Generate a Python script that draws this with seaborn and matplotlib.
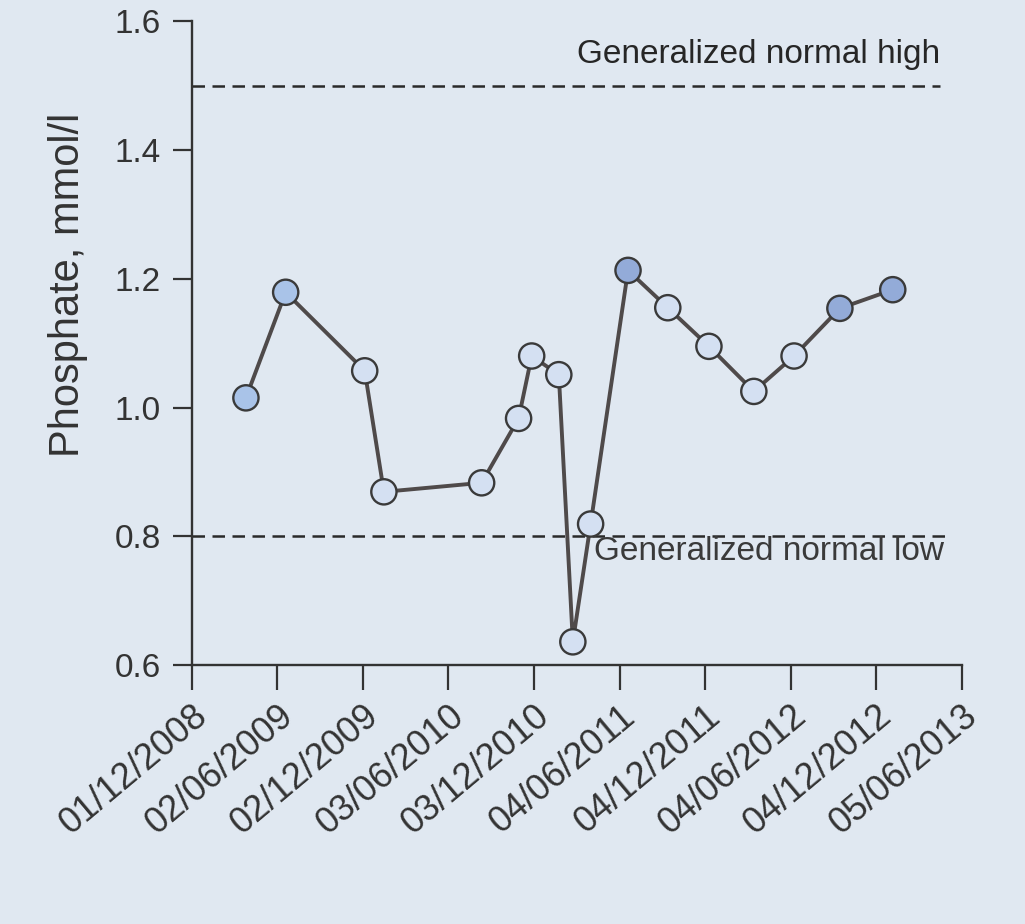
import matplotlib
matplotlib.use("Agg")
import matplotlib.pyplot as plt
import seaborn as sns
import pandas as pd

dates = ["2009-03-27", "2009-06-20", "2009-12-06", "2010-01-16", "2010-08-13",
         "2010-10-31", "2010-11-28", "2011-01-25", "2011-02-24", "2011-04-03",
         "2011-06-22", "2011-09-15", "2011-12-12", "2012-03-17", "2012-06-11",
         "2012-09-17", "2013-01-08"]
phosphate = [1.015, 1.179, 1.057, 0.869, 0.883, 0.983, 1.080, 1.051, 0.636, 0.819,
             1.213, 1.155, 1.095, 1.025, 1.080, 1.154, 1.183]
shade = ["mid", "mid", "light", "light", "light", "light", "light", "light", "light",
         "light", "dark", "light", "light", "light", "light", "dark", "dark"]
tick_dates = ["2008-12-01", "2009-06-02", "2009-12-02", "2010-06-03", "2010-12-03",
              "2011-06-04", "2011-12-04", "2012-06-04", "2012-12-04", "2013-06-05"]
tick_labels = ["01/12/2008", "02/06/2009", "02/12/2009", "03/06/2010", "03/12/2010",
               "04/06/2011", "04/12/2011", "04/06/2012", "04/12/2012", "05/06/2013"]
y_ticks = [0.6, 0.8, 1.0, 1.2, 1.4, 1.6]
y_tick_labels = ["0.6", "0.8", "1.0", "1.2", "1.4", "1.6"]
normal_high = 1.5
normal_low = 0.8

df = pd.DataFrame({"date": pd.to_datetime(dates), "phosphate": phosphate, "shade": shade})

sns.set_theme(style="ticks")
plt.rcParams["font.family"] = ["Liberation Sans", "DejaVu Sans"]

bg = "#e0e8f1"
fig = plt.figure(figsize=(10.25, 9.24), dpi=100, facecolor=bg)
ax = fig.add_axes([0.187, 0.2803, 0.7515, 0.6967])
ax.set_facecolor(bg)

sns.lineplot(data=df, x="date", y="phosphate", ax=ax, color="#4f4a4a", linewidth=2.8,
             zorder=2)
sns.scatterplot(data=df, x="date", y="phosphate", hue="shade", ax=ax,
                palette={"light": "#d4e0f2", "mid": "#a9c3e8", "dark": "#93abd8"},
                s=330, edgecolor="#3a3a3a", linewidth=1.7, zorder=3, legend=False)

xmin = pd.Timestamp(tick_dates[0])
xmax = pd.Timestamp(tick_dates[-1])
ax.plot([xmin, pd.Timestamp("2013-04-19")], [normal_high, normal_high],
        ls=(0, (5, 3)), color="#2a2a2a", lw=1.8, zorder=1)
ax.plot([xmin, pd.Timestamp("2013-05-10")], [normal_low, normal_low],
        ls=(0, (5, 3)), color="#2a2a2a", lw=1.8, zorder=1)
ax.text(pd.Timestamp("2013-04-19"), 1.548, "Generalized normal high", ha="right",
        va="center", fontsize=24, color="#262626")
ax.text(pd.Timestamp("2011-04-10"), 0.776, "Generalized normal low", ha="left",
        va="center", fontsize=24, color="#3a3a3a")

ax.set_xlim(xmin, xmax)
ax.set_ylim(0.6, 1.6)
ax.set_yticks(y_ticks)
ax.set_yticklabels(y_tick_labels)
ax.set_xticks(pd.to_datetime(tick_dates))
ax.set_xticklabels(tick_labels, rotation=40, ha="right", rotation_mode="anchor")
ax.tick_params(axis="y", labelsize=24, colors="#333333", length=14, width=1.6,
               direction="out", pad=8)
ax.tick_params(axis="x", labelsize=26, colors="#333333", length=18, width=1.6,
               direction="out", pad=6)
ax.set_xlabel("")
ax.set_ylabel("Phosphate, mmol/l", fontsize=30, color="#333333")
ax.yaxis.set_label_coords(-0.135, 0.59)
for side in ["top", "right"]:
    ax.spines[side].set_visible(False)
for side in ["left", "bottom"]:
    ax.spines[side].set_linewidth(1.7)
    ax.spines[side].set_color("#333333")

fig.savefig("out.png", dpi=100, facecolor=bg)
